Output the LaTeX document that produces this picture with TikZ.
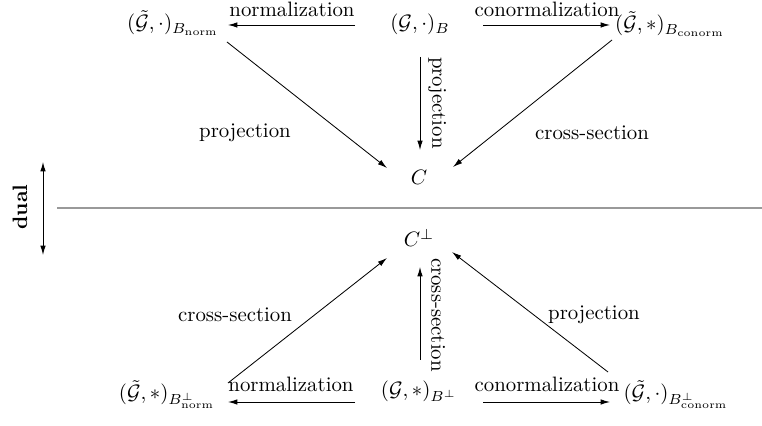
\documentclass[tikz,border=0pt]{standalone}
\usepackage{amsmath}
\usepackage{amssymb}
\usetikzlibrary{
arrows.meta,
positioning
}

\begin{document}
\begin{tikzpicture}[
x=0.48pt, y=-0.48pt,
obj/.style={anchor=base, inner sep=0pt},
lbl/.style={inner sep=0pt},
arrow/.style={-{Latex[length=4.5pt,width=2.6pt]}},
sep/.style={draw=black!40, line width=0.6pt}
]
\useasboundingbox (0,0) rectangle (762,426);

\node[obj] (gnorm) at (173,30) {$(\tilde{\mathcal{G}},\cdot)_{B_{\mathrm{norm}}}$};
\node[obj] (gb) at (420,30) {$(\mathcal{G},\cdot)_{B}$};
\node[obj] (gconorm) at (670,31) {$(\tilde{\mathcal{G}},*)_{B_{\mathrm{conorm}}}$};
\node[obj] (c) at (419,185) {$C$};
\node[obj] (cperp) at (419,247) {$C^{\perp}$};
\node[obj] (gpnorm) at (167,400) {$(\tilde{\mathcal{G}},*)_{B^{\perp}_{\mathrm{norm}}}$};
\node[obj] (gbperp) at (419,397) {$(\mathcal{G},*)_{B^{\perp}}$};
\node[obj] (gpconorm) at (676,400) {$(\tilde{\mathcal{G}},\cdot)_{B^{\perp}_{\mathrm{conorm}}}$};

\coordinate (septl) at (57,208);
\coordinate (septr) at (762,208);
\coordinate (dualtop) at (43,162);
\coordinate (dualbot) at (43,255);

\draw[sep] (septl) -- (septr);
\draw[{Latex[length=4.5pt,width=2.6pt]}-{Latex[length=4.5pt,width=2.6pt]}] (dualtop) -- (dualbot);
\node[lbl, rotate=90] (dual) at (20,207) {\textbf{dual}};

\draw[arrow] ([shift={(-65,-5)}]gb.base) -- ([shift={(55,-5)}]gnorm.base);
\draw[arrow] ([shift={(63,-5)}]gb.base) -- ([shift={(-60,-6)}]gconorm.base);
\draw[arrow] ([shift={(0,27)}]gb.base) -- ([shift={(1,-35)}]c.base);
\draw[arrow] ([shift={(54,12)}]gnorm.base) -- ([shift={(-32,-17)}]c.base);
\draw[arrow] ([shift={(-58,9)}]gconorm.base) -- ([shift={(34,-18)}]c.base);

\draw[arrow] ([shift={(-64,5)}]gbperp.base) -- ([shift={(61,2)}]gpnorm.base);
\draw[arrow] ([shift={(64,5)}]gbperp.base) -- ([shift={(-66,2)}]gpconorm.base);
\draw[arrow] ([shift={(1,-37)}]gbperp.base) -- ([shift={(1,20)}]cperp.base);
\draw[arrow] ([shift={(61,-17)}]gpnorm.base) -- ([shift={(-32,11)}]cperp.base);
\draw[arrow] ([shift={(-68,-28)}]gpconorm.base) -- ([shift={(33,5)}]cperp.base);

\node[lbl, anchor=base] (lnorm) at (292,17) {normalization};
\node[lbl, anchor=base] (lconorm) at (547,17) {conormalization};
\node[lbl, rotate=-90] (lprojv) at (437,103) {projection};
\node[lbl] (lprojl) at (245,133) {projection};
\node[lbl] (lcrossr) at (592,133) {cross-section};

\node[lbl, anchor=base] (lpnorm) at (291,392) {normalization};
\node[lbl, anchor=base] (lpconorm) at (547,392) {conormalization};
\node[lbl, rotate=-90] (lcrossv) at (438,315) {cross-section};
\node[lbl] (lcrossl) at (235,315) {cross-section};
\node[lbl] (lprojr) at (594,315) {projection};

\end{tikzpicture}
\end{document}
